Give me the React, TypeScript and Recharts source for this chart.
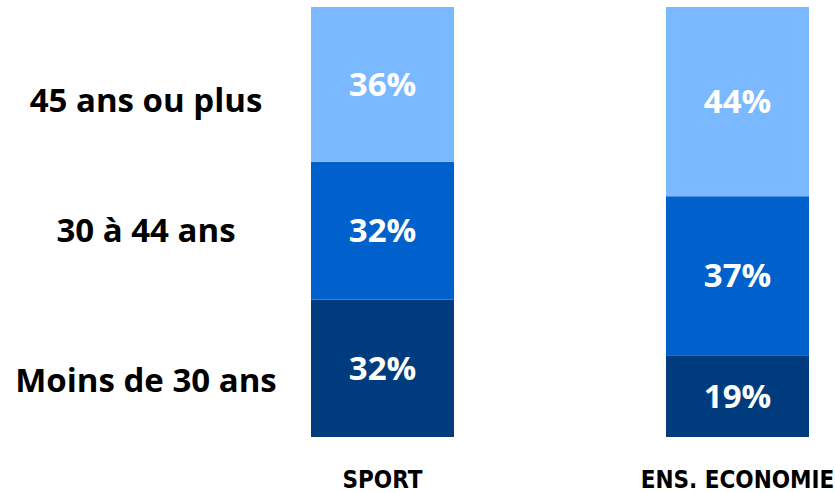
import React from "react";
import { BarChart, Bar, XAxis, YAxis, LabelList } from "recharts";

const categories = ["SPORT", "ENS. ECONOMIE"];
const moins30 = [32, 19];
const de30a44 = [32, 37];
const plus45 = [36, 44];
const groupLabels = ["Moins de 30 ans", "30 à 44 ans", "45 ans ou plus"];
const groupLabelPositions = [13.1, 48.0, 78.4];

const data = categories.map((c, i) => ({
  name: c,
  moins30: moins30[i],
  de30a44: de30a44[i],
  plus45: plus45[i],
}));

const COLORS = ["#003c7d", "#0060cc", "#7ab8ff"];

const LeftTick = (props: any) => {
  const { y, payload } = props;
  const idx = groupLabelPositions.indexOf(payload.value);
  return (
    <text
      x={146}
      y={y}
      dy="0.355em"
      textAnchor="middle"
      fill="#000"
      fontFamily="Open Sans"
      fontWeight={700}
      fontSize={33}
    >
      {groupLabels[idx]}
    </text>
  );
};

const BottomTick = (props: any) => {
  const { x, y, payload } = props;
  return (
    <text
      x={x}
      y={y}
      dy="0.71em"
      textAnchor="middle"
      fill="#000"
      fontFamily="DejaVu Sans Condensed"
      fontWeight={700}
      fontSize={24}
    >
      {payload.value}
    </text>
  );
};

const pct = (v: any) => `${v}%`;
const labelStyle = { fill: "#fff", fontFamily: "Open Sans", fontWeight: 700, fontSize: 33 };

export default function App() {
  return (
    <div style={{ position: "absolute", left: 0, top: 0, width: 835, height: 493, overflow: "hidden", background: "#fff" }}>
      <BarChart width={915} height={493} data={data} margin={{ top: 7, right: 0, bottom: 0, left: 0 }}>
        <XAxis dataKey="name" axisLine={false} tickLine={false} height={56} tick={<BottomTick />} interval={0} tickMargin={28} />
        <YAxis
          type="number"
          domain={[0, 100]}
          ticks={groupLabelPositions}
          width={205}
          axisLine={false}
          tickLine={false}
          tick={<LeftTick />}
          interval={0}
        />
        <Bar dataKey="moins30" stackId="a" fill={COLORS[0]} barSize={143} isAnimationActive={false}>
          <LabelList dataKey="moins30" position="center" formatter={pct} style={labelStyle} />
        </Bar>
        <Bar dataKey="de30a44" stackId="a" fill={COLORS[1]} barSize={143} isAnimationActive={false}>
          <LabelList dataKey="de30a44" position="center" formatter={pct} style={labelStyle} />
        </Bar>
        <Bar dataKey="plus45" stackId="a" fill={COLORS[2]} barSize={143} isAnimationActive={false}>
          <LabelList dataKey="plus45" position="center" formatter={pct} style={labelStyle} />
        </Bar>
      </BarChart>
    </div>
  );
}
